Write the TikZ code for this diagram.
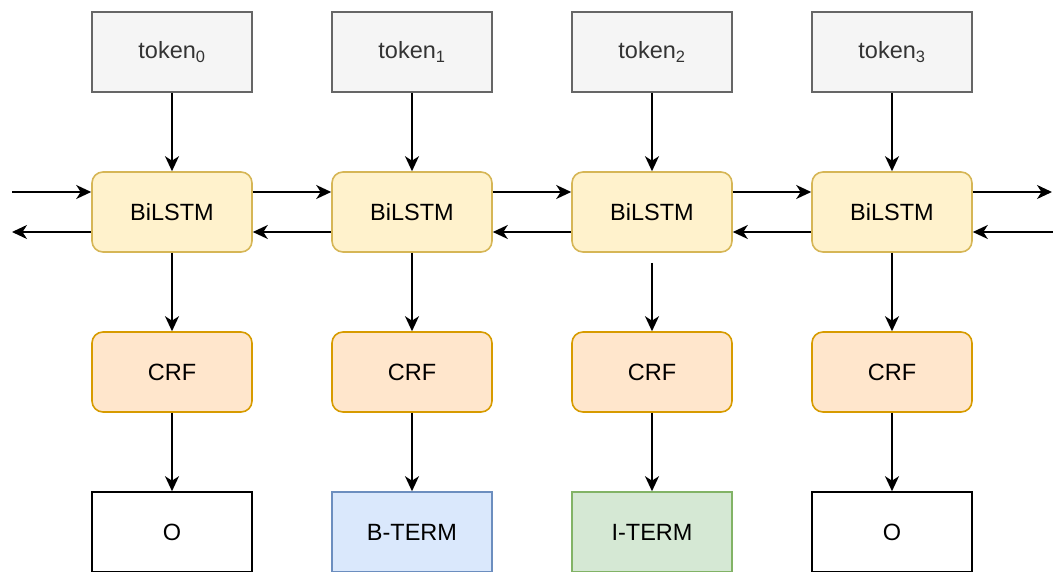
\documentclass[tikz,border=0pt]{standalone}
\usepackage{fontspec}
\setmainfont{Liberation Sans}
\usetikzlibrary{arrows.meta}
\definecolor{tokfill}{HTML}{F5F5F5}
\definecolor{tokline}{HTML}{666666}
\definecolor{lstmfill}{HTML}{FFF2CC}
\definecolor{lstmline}{HTML}{D6B656}
\definecolor{crffill}{HTML}{FFE6CC}
\definecolor{crfline}{HTML}{D79B00}
\definecolor{bfill}{HTML}{DAE8FC}
\definecolor{bline}{HTML}{6C8EBF}
\definecolor{ifill}{HTML}{D5E8D4}
\definecolor{iline}{HTML}{82B366}
\definecolor{txtgray}{HTML}{333333}
\tikzset{
  box/.style={minimum width=160pt, minimum height=80pt, line width=1.6pt,
    font=\fontsize{23.5}{28}\selectfont, inner sep=0pt, anchor=center},
  tokbox/.style={box, draw=tokline, fill=tokfill, text=txtgray},
  lstmbox/.style={box, draw=lstmline, fill=lstmfill, rounded corners=11pt},
  crfbox/.style={box, draw=crfline, fill=crffill, rounded corners=11pt},
  obox/.style={box, draw=black, fill=white},
  bbox/.style={box, draw=bline, fill=bfill},
  ibox/.style={box, draw=iline, fill=ifill},
  flow/.style={line width=1.7pt, -{Stealth[length=15pt,width=14pt,inset=4.5pt]}},
}
\begin{document}
\begin{tikzpicture}[x=1pt,y=-1pt]
\useasboundingbox (0,0) rectangle (1053,572);
% input tokens
\node[tokbox] (t0) at (172,52) {token\textsubscript{0}};
\node[tokbox] (t1) at (412,52) {token\textsubscript{1}};
\node[tokbox] (t2) at (652,52) {token\textsubscript{2}};
\node[tokbox] (t3) at (892,52) {token\textsubscript{3}};
% recurrent layer
\node[lstmbox] (l0) at (172,212) {BiLSTM};
\node[lstmbox] (l1) at (412,212) {BiLSTM};
\node[lstmbox] (l2) at (652,212) {BiLSTM};
\node[lstmbox] (l3) at (892,212) {BiLSTM};
% CRF layer
\node[crfbox] (c0) at (172,372) {CRF};
\node[crfbox] (c1) at (412,372) {CRF};
\node[crfbox] (c2) at (652,372) {CRF};
\node[crfbox] (c3) at (892,372) {CRF};
% output tags
\node[obox] (o0) at (172,532) {O};
\node[bbox] (o1) at (412,532) {B-TERM};
\node[ibox] (o2) at (652,532) {I-TERM};
\node[obox] (o3) at (892,532) {O};
% free ends of the sequence arrows
\coordinate (inL) at (12,192);
\coordinate (outL) at (12,232);
\coordinate (outR) at (1052,192);
\coordinate (inR) at (1053,232);
\coordinate (l2b) at ([yshift=-10pt]l2.south);
% vertical flow
\foreach \i in {0,1,2,3} {
  \draw[flow] (t\i) -- (l\i);
  \draw[flow] (c\i) -- (o\i);
}
\draw[flow] (l0) -- (c0);
\draw[flow] (l1) -- (c1);
\draw[flow] (l2b) -- (c2);
\draw[flow] (l3) -- (c3);
% forward direction
\draw[flow] (inL) -- ([yshift=20pt]l0.west);
\draw[flow] ([yshift=20pt]l0.east) -- ([yshift=20pt]l1.west);
\draw[flow] ([yshift=20pt]l1.east) -- ([yshift=20pt]l2.west);
\draw[flow] ([yshift=20pt]l2.east) -- ([yshift=20pt]l3.west);
\draw[flow] ([yshift=20pt]l3.east) -- (outR);
% backward direction
\draw[flow] (inR) -- ([yshift=-20pt]l3.east);
\draw[flow] ([yshift=-20pt]l3.west) -- ([yshift=-20pt]l2.east);
\draw[flow] ([yshift=-20pt]l2.west) -- ([yshift=-20pt]l1.east);
\draw[flow] ([yshift=-20pt]l1.west) -- ([yshift=-20pt]l0.east);
\draw[flow] ([yshift=-20pt]l0.west) -- (outL);
\end{tikzpicture}
\end{document}
